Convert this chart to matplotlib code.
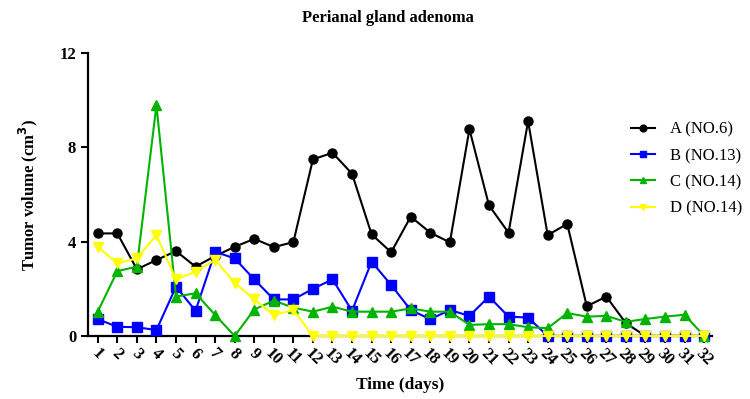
import matplotlib
matplotlib.use('Agg')
import matplotlib.pyplot as plt

days = list(range(1, 33))

seriesA = [4.35, 4.35, 2.83, 3.22, 3.6, 2.94, 3.39, 3.78, 4.12, 3.77,
           3.98, 7.49, 7.77, 6.88, 4.31, 3.55, 5.06, 4.38, 3.97, 8.77,
           5.54, 4.38, 9.11, 4.28, 4.75, 1.26, 1.67, 0.54, 0.0, 0.0,
           0.0, 0.0]
seriesB = [0.71, 0.39, 0.37, 0.25, 2.09, 1.07, 3.57, 3.29, 2.4, 1.55,
           1.55, 2.0, 2.4, 1.07, 3.15, 2.16, 1.1, 0.71, 1.1, 0.85,
           1.67, 0.82, 0.78, 0.0, 0.0, 0.0, 0.0, 0.0, 0.0, 0.0,
           0.0, 0.0]
seriesC = [1.03, 2.75, 2.94, 9.79, 1.67, 1.81, 0.89, 0.0, 1.12, 1.5,
           1.2, 1.03, 1.24, 1.03, 1.03, 1.03, 1.17, 1.03, 1.03, 0.47,
           0.5, 0.5, 0.37, 0.33, 0.97, 0.82, 0.85, 0.6, 0.72, 0.82,
           0.9, 0.0]
seriesD = [3.78, 3.08, 3.29, 4.28, 2.4, 2.73, 3.22, 2.26, 1.55, 0.89,
           1.1, 0.0, 0.0, 0.0, 0.0, 0.0, 0.0, 0.0, 0.0, 0.0,
           0.0, 0.0, 0.0, 0.0, 0.0, 0.0, 0.0, 0.0, 0.0, 0.0,
           0.0, 0.0]

labels = ['A (NO.6)', 'B (NO.13)', 'C (NO.14)', 'D (NO.14)']
colors = ['black', '#0000ff', '#00b400', '#ffff00']
markers = ['o', 's', '^', 'v']

plt.rcParams['font.family'] = ['Liberation Serif', 'DejaVu Serif']

fig = plt.figure(figsize=(7.5, 3.99), dpi=100)
ax = fig.add_axes([0.1173, 0.158, 0.832, 0.709])

allSeries = [seriesA, seriesB, seriesC, seriesD]
for values, label, color, marker in zip(allSeries, labels, colors, markers):
    ax.plot(days, values, color=color, marker=marker, markersize=6.5,
            linewidth=1.5, label=label, clip_on=False, zorder=3)

ax.set_xlim(0.5, 32.4)
ax.set_ylim(0, 12)
ax.set_xticks(days)
ax.set_xticklabels([str(d) for d in days], rotation=-45, ha='center',
                   va='top', fontsize=12, fontweight='bold')
ax.set_yticks([0, 4, 8, 12])
ax.set_yticklabels(['0', '4', '8', '12'], fontsize=12, fontweight='bold')
ax.tick_params(axis='both', direction='out', length=5, width=1.5)
ax.tick_params(axis='x', pad=2)

for side in ['top', 'right']:
    ax.spines[side].set_visible(False)
for side in ['left', 'bottom']:
    ax.spines[side].set_linewidth(1.6)

ax.set_xlabel('Time (days)', fontsize=12.5, fontweight='bold', labelpad=6)
ax.set_ylabel('Tumor volume (cm$\\mathbf{^3}$)', fontsize=12,
              fontweight='bold', labelpad=14)
fig.suptitle('Perianal gland adenoma', fontsize=12, fontweight='bold',
             x=0.517, y=0.975)

fig.legend(loc='upper left', bbox_to_anchor=(0.833, 0.712), frameon=False,
           fontsize=12, handlelength=1.4, handletextpad=0.9,
           markerscale=0.75, labelspacing=0.62, borderaxespad=0)

fig.savefig('out.png', dpi=100)
